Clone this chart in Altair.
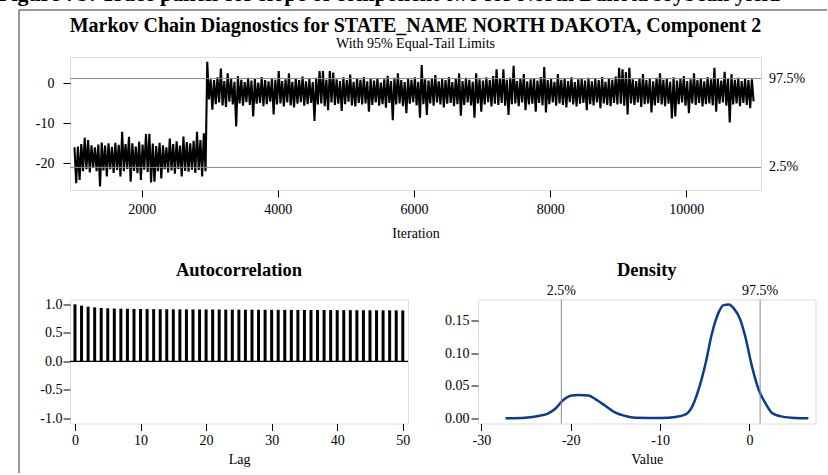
import altair as alt
import pandas as pd

HEADER = "Figure 7b: Trace panels for slope of component two for North Dakota soybean yield"
TITLE = "Markov Chain Diagnostics for STATE_NAME NORTH DAKOTA, Component 2"
SUBTITLE = "With 95% Equal-Tail Limits"
ACF_TITLE = "Autocorrelation"
DENS_TITLE = "Density"

# Trace: envelope read per 50-iteration block (high, then low) starting at iteration 1001
ITER_FIRST = 1001
BLOCK = 50
TRACE_HI = [
    -16.0, -15.8, -15.2, -13.6, -14.2, -15.5, -16.0, -15.3, -14.8, -15.6,
    -15.0, -15.9, -14.9, -15.4, -12.1, -15.2, -13.4, -15.0, -15.8, -14.6,
    -15.3, -12.7, -12.6, -15.1, -15.7, -14.9, -15.5, -16.0, -13.8, -15.2,
    -14.5, -15.6, -13.3, -14.7, -15.0, -14.4, -12.1, -14.2, -12.5,
    5.4, 1.0, 0.8, 1.5, 3.7, 0.6, 2.5, 1.2, 0.4, 1.8,
    0.9, 0.3, 1.4, 0.7, 1.1, 0.2, 1.6, 0.8, 0.5, 1.2,
    0.9, 3.1, 0.6, 1.0, 2.5, 0.4, 1.3, 0.8, 1.7, 0.5,
    1.1, 0.3, 1.4, 3.1, 3.1, 0.9, 3.1, 2.7, 1.0, 0.6,
    1.5, 0.8, 2.2, 0.4, 1.2, 0.9, 1.6, 0.5, 1.1, 0.7,
    1.3, 0.2, 1.0, 1.9, 0.6, 1.4, 2.5, 0.8, 0.3, 1.2,
    0.9, 1.5, 0.4, 4.6, 1.0, 0.7, 1.3, 2.1, 0.5, 1.1,
    0.8, 1.6, 0.3, 1.2, 2.5, 0.6, 1.4, 0.9, 0.4, 2.5,
    1.0, 0.7, 1.5, 0.8, 1.8, 3.5, 1.1, 3.5, 0.9, 1.4,
    4.4, 0.6, 1.2, 2.3, 0.5, 1.0, 1.3, 0.7, 1.6, 4.1,
    0.8, 1.1, 0.4, 2.3, 0.9, 1.3, 0.6, 1.5, 0.3, 1.0,
    1.2, 0.7, 1.4, 0.5, 1.1, 0.8, 1.6, 0.4, 1.2, 0.9,
    1.7, 3.9, 3.5, 2.8, 3.9, 1.0, 0.6, 1.3, 2.3, 0.8,
    1.1, 0.5, 1.4, 2.5, 0.9, 1.2, 0.4, 1.5, 0.7, 1.1,
    1.8, 0.6, 1.0, 2.5, 0.8, 1.3, 0.5, 1.6, 1.0, 3.9,
    1.2, 0.7, 2.9, 1.1, 2.3, 0.9, 1.4, 0.6, 1.2, 0.8,
    1.0,
]
TRACE_LO = [
    -25.0, -24.2, -22.0, -21.5, -22.3, -21.2, -22.0, -25.8, -21.8, -23.3,
    -21.5, -22.4, -21.7, -23.3, -22.0, -21.4, -24.6, -21.9, -22.5, -24.2,
    -21.6, -22.2, -24.8, -24.6, -22.0, -23.8, -21.5, -22.3, -21.8, -22.6,
    -21.4, -23.3, -21.9, -22.1, -21.6, -22.4, -21.7, -23.3, -22.0,
    -4.0, -6.6, -5.2, -4.8, -5.5, -5.9, -4.6, -5.3, -10.8, -5.0,
    -5.6, -4.7, -5.4, -8.3, -5.1, -4.9, -5.7, -5.2, -4.6, -7.8,
    -5.3, -5.0, -5.8, -4.8, -5.5, -6.0, -5.1, -4.7, -5.6, -5.2,
    -4.9, -9.4, -5.3, -5.0, -5.7, -6.7, -4.8, -5.4, -5.1, -6.9,
    -5.2, -4.6, -5.5, -5.8, -4.9, -5.3, -5.0, -7.1, -5.4, -4.8,
    -5.6, -5.2, -6.1, -4.9, -9.2, -5.3, -5.0, -5.7, -7.5, -5.1,
    -4.7, -5.5, -8.6, -5.2, -7.9, -5.0, -5.6, -4.8, -5.3, -6.0,
    -5.1, -4.9, -5.7, -5.2, -8.1, -5.4, -4.8, -5.5, -8.6, -5.0,
    -7.1, -5.3, -4.7, -5.8, -5.1, -5.4, -4.9, -5.6, -7.9, -5.2,
    -5.0, -5.7, -4.8, -6.7, -5.3, -5.1, -7.1, -4.9, -5.5, -7.3,
    -5.2, -4.8, -5.6, -5.0, -5.4, -6.0, -4.7, -5.3, -5.8, -5.1,
    -4.9, -6.7, -5.2, -5.5, -4.8, -6.2, -5.0, -5.4, -5.7, -4.9,
    -5.3, -5.1, -5.6, -7.8, -5.0, -5.4, -4.8, -5.9, -5.2, -5.0,
    -7.3, -5.5, -4.9, -5.3, -5.7, -5.1, -8.8, -8.3, -5.2, -4.8,
    -5.6, -7.5, -5.0, -5.4, -4.9, -5.8, -5.2, -5.0, -5.5, -7.1,
    -5.1, -4.8, -5.6, -9.8, -5.3, -5.0, -5.7, -4.9, -5.4, -6.2,
    -4.5,
]

QUANT_LABELS = ["2.5%", "97.5%"]
QUANT_VALUES = [-21.05, 1.2]

ACF_LAGS = list(range(51))
ACF_VALUES = [
    1.0, 0.977, 0.959, 0.947, 0.937, 0.931, 0.927, 0.924, 0.922, 0.920,
    0.918, 0.917, 0.916, 0.915, 0.914, 0.913, 0.912, 0.912, 0.911, 0.910,
    0.910, 0.909, 0.909, 0.908, 0.907, 0.907, 0.906, 0.906, 0.905, 0.905,
    0.904, 0.904, 0.903, 0.903, 0.902, 0.902, 0.901, 0.901, 0.900, 0.900,
    0.899, 0.899, 0.898, 0.898, 0.897, 0.897, 0.896, 0.896, 0.895, 0.895,
    0.894,
]

DENS_X = [-27.3, -25.1, -23.6, -22.5, -21.7, -21.0, -19.9, -19.1, -18.0, -17.2,
          -16.1, -15.0, -13.9, -12.8, -9.8, -8.3, -7.2, -6.4, -5.7, -4.9,
          -4.2, -3.4, -2.9, -2.3, -1.75, -1.0, -0.45, 0.3, 1.05, 1.8,
          2.5, 3.7, 5.1, 6.6]
DENS_Y = [0.0, 0.001, 0.0036, 0.0077, 0.015, 0.026, 0.035, 0.036, 0.035, 0.029,
          0.019, 0.0087, 0.0036, 0.001, 0.0005, 0.002, 0.0056, 0.018, 0.0435, 0.0845,
          0.13, 0.164, 0.174, 0.175, 0.169, 0.151, 0.125, 0.079, 0.0435, 0.023,
          0.0087, 0.0026, 0.0005, 0.0]

SERIF = "Liberation Serif"
MINUS_FIX = "replace(datum.label, '\u2212', '-')"

# ---------- data tables ----------
rows = []
for i, (h, l) in enumerate(zip(TRACE_HI, TRACE_LO)):
    start = ITER_FIRST + BLOCK * i
    rows.append({"iter": start + 12, "val": h})
    rows.append({"iter": start + 37, "val": l})
trace_df = pd.DataFrame(rows)
quant_df = pd.DataFrame({"label": QUANT_LABELS, "q": QUANT_VALUES})
acf_df = pd.DataFrame({"lag": ACF_LAGS, "acf": ACF_VALUES})
dens_df = pd.DataFrame({"x": DENS_X, "d": DENS_Y})
zero_df = pd.DataFrame({"z": [0.0]})
one = pd.DataFrame({"k": [0]})

axis_common = dict(grid=False, domain=False, ticks=True, tickSize=7, tickColor="black",
                   tickWidth=1, labelFont=SERIF, labelFontSize=14, labelColor="black",
                   titleFont=SERIF, titleFontSize=14, titleFontWeight="normal",
                   titleColor="black")

# ---------- top: trace ----------
TW, TH = 691, 133
tx_scale = alt.Scale(domain=[947, 11097], nice=False, zero=False)
ty_scale = alt.Scale(domain=[-26.7, 6.6], nice=False, zero=False)
ty_axis = alt.Axis(values=[-20, -10, 0], title=None, labelPadding=9,
                   labelExpr=MINUS_FIX, **axis_common)

trace = alt.Chart(trace_df).mark_line(color="black", strokeWidth=2.1).encode(
    x=alt.X("iter:Q", scale=tx_scale,
            axis=alt.Axis(values=[2000, 4000, 6000, 8000, 10000], format="d",
                          title="Iteration", labelPadding=5, titlePadding=10, **axis_common)),
    y=alt.Y("val:Q", scale=ty_scale, axis=ty_axis),
)
t_rules = alt.Chart(quant_df).mark_rule(color="#8a8a8a", strokeWidth=1).encode(
    y=alt.Y("q:Q", scale=ty_scale, axis=ty_axis))
t_labels = alt.Chart(quant_df).mark_text(align="left", baseline="middle", font=SERIF,
                                         fontSize=14, color="black").encode(
    x=alt.value(TW + 8), y=alt.Y("q:Q", scale=ty_scale, axis=ty_axis), text="label:N")
title_txt = alt.Chart(one).mark_text(align="center", baseline="middle", font=SERIF,
                                     fontSize=20, fontWeight="bold", color="black").encode(
    x=alt.value(TW / 2), y=alt.value(-31), text=alt.value(TITLE))
subtitle_txt = alt.Chart(one).mark_text(align="center", baseline="middle", font=SERIF,
                                        fontSize=14, color="black").encode(
    x=alt.value(TW / 2), y=alt.value(-13), text=alt.value(SUBTITLE))
header_txt = alt.Chart(one).mark_text(align="left", baseline="alphabetic", font=SERIF,
                                      fontSize=22, fontWeight="bold", color="black").encode(
    x=alt.value(-72), y=alt.value(-56.5), text=alt.value(HEADER))
frame_v = alt.Chart(one).mark_rule(color="#333333", strokeWidth=1).encode(
    x=alt.value(-51), y=alt.value(-47), y2=alt.value(416))
frame_h = alt.Chart(one).mark_rule(color="#333333", strokeWidth=1).encode(
    x=alt.value(-51), x2=alt.value(757), y=alt.value(-47))

top = alt.layer(trace, t_rules, t_labels, title_txt, subtitle_txt, header_txt,
                frame_v, frame_h).properties(width=TW, height=TH)

# ---------- bottom left: autocorrelation ----------
AW, AH = 338, 124
ax_scale = alt.Scale(domain=[-0.76, 50.8], nice=False, zero=False, padding=0)
ay_scale = alt.Scale(domain=[-1.09, 1.085], nice=False, zero=False)
ay_axis = alt.Axis(values=[-1, -0.5, 0, 0.5, 1], format=".1f", title=None,
                   labelPadding=1, labelExpr=MINUS_FIX, **axis_common)
acf_bars = alt.Chart(acf_df).mark_bar(size=3, color="black").encode(
    x=alt.X("lag:Q", scale=ax_scale,
            axis=alt.Axis(values=[0, 10, 20, 30, 40, 50], title="Lag", labelPadding=3,
                          titlePadding=5, **axis_common)),
    y=alt.Y("acf:Q", scale=ay_scale, axis=ay_axis),
)
acf_zero = alt.Chart(zero_df).mark_rule(color="black", strokeWidth=1.2).encode(
    y=alt.Y("z:Q", scale=ay_scale, axis=ay_axis))
acf_title = alt.Chart(one).mark_text(align="center", baseline="middle", font=SERIF,
                                     fontSize=18.5, fontWeight="bold", color="black").encode(
    x=alt.value(AW / 2), y=alt.value(-29.5), text=alt.value(ACF_TITLE))
acf = alt.layer(acf_bars, acf_zero, acf_title).properties(width=AW, height=AH)

# ---------- bottom right: density ----------
DW, DH = 337.5, 124
dx_scale = alt.Scale(domain=[-30.38, 7.4], nice=False, zero=False)
dy_scale = alt.Scale(domain=[-0.008, 0.1826], nice=False, zero=False)
dx_axis = alt.Axis(values=[-30, -20, -10, 0], format="d", title="Value",
                   labelPadding=3, titlePadding=5, labelExpr=MINUS_FIX, **axis_common)
dens_line = alt.Chart(dens_df).mark_line(color="#0b3b8c", strokeWidth=2.5,
                                         interpolate="monotone").encode(
    x=alt.X("x:Q", scale=dx_scale, axis=dx_axis),
    y=alt.Y("d:Q", scale=dy_scale,
            axis=alt.Axis(values=[0, 0.05, 0.1, 0.15], format=".2f", title=None,
                          labelPadding=2, **axis_common)),
)
d_rules = alt.Chart(quant_df).mark_rule(color="#8a8a8a", strokeWidth=1).encode(
    x=alt.X("q:Q", scale=dx_scale, axis=dx_axis))
d_labels = alt.Chart(quant_df).mark_text(align="center", baseline="middle", font=SERIF,
                                         fontSize=14, color="black").encode(
    x=alt.X("q:Q", scale=dx_scale, axis=dx_axis), y=alt.value(-9), text="label:N")
dens_title = alt.Chart(one).mark_text(align="center", baseline="middle", font=SERIF,
                                      fontSize=18.5, fontWeight="bold", color="black").encode(
    x=alt.value(DW / 2), y=alt.value(-29.5), text=alt.value(DENS_TITLE))
dens = alt.layer(dens_line, d_rules, d_labels, dens_title).properties(width=DW, height=DH)

bottom = alt.hconcat(acf, dens, spacing=70, bounds="flush")

chart = alt.vconcat(top, bottom, spacing=109.5, bounds="flush").properties(
    padding={"left": -3, "top": -18, "right": 0, "bottom": 0}
).configure_view(stroke="black", strokeWidth=1.3).configure(background="white")

chart.save("out.html", embed_options={"renderer": "svg", "actions": False})
